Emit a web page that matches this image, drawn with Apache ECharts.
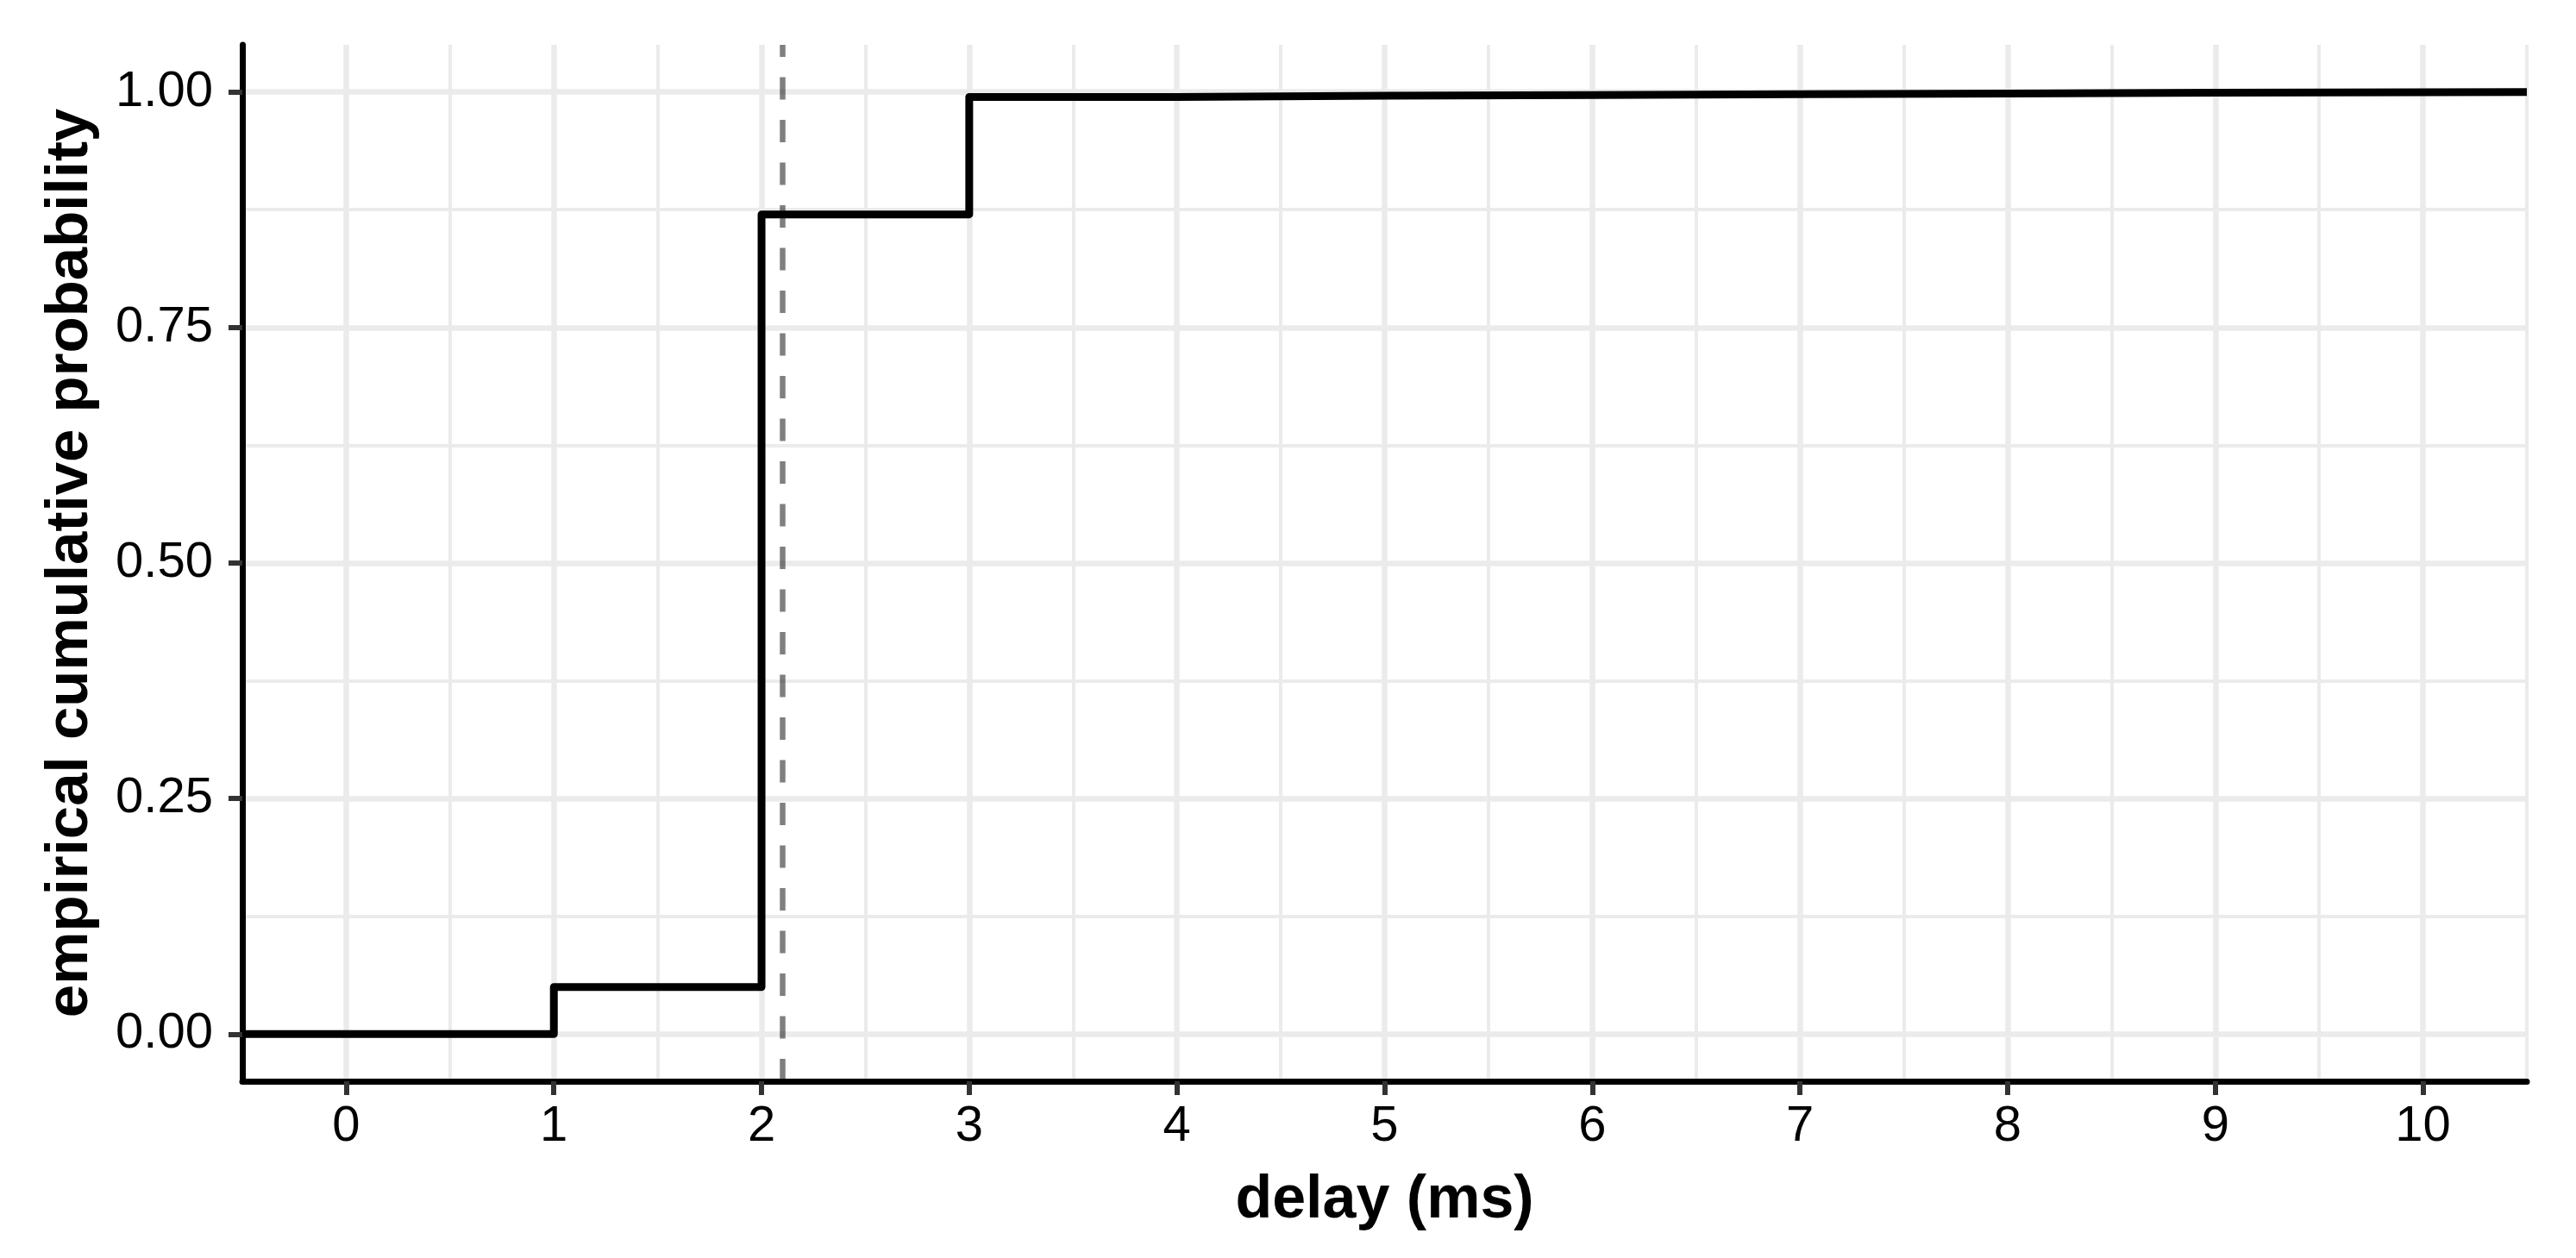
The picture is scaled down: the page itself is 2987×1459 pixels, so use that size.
<!DOCTYPE html>
<html>
<head>
<meta charset="utf-8">
<title>ecdf delay</title>
<script src="https://cdn.jsdelivr.net/npm/echarts@6/dist/echarts.min.js"></script>
<style>
    html, body { margin: 0; padding: 0; background: #ffffff; }
    #ecdfChart { width: 2987px; height: 1459px; }
</style>
</head>
<body>
<div id="ecdfChart"></div>
<script>
// 数据: 延迟 (ms) 及其经验累积概率
var delays = [1, 2, 3, 4, 5, 6, 7, 8, 9];
var cumProb = [0.05, 0.87, 0.9947, 0.9959, 0.9968, 0.9976, 0.9982, 0.9992, 1.0];

// 参考线 (虚线)
var refDelay = 2.1;

// 坐标轴范围和刻度
var xMin = -0.5, xMax = 10.5;
var yMin = -0.05, yMax = 1.05;
var xTicks = [0, 1, 2, 3, 4, 5, 6, 7, 8, 9, 10];
var xMinorTicks = [-0.5, 0.5, 1.5, 2.5, 3.5, 4.5, 5.5, 6.5, 7.5, 8.5, 9.5, 10.5];
var yTicks = [0, 0.25, 0.5, 0.75, 1];
var yMinorTicks = [0.125, 0.375, 0.625, 0.875];

var fontFamily = "'Liberation Sans', Arial, Helvetica, sans-serif";

// 阶梯线: 两端延伸到坐标轴边界 (同 stat_ecdf 的 pad)
var stepData = [[xMin, 0]];
for (var i = 0; i < delays.length; i++) {
    stepData.push([delays[i], cumProb[i]]);
}
stepData.push([xMax, cumProb[cumProb.length - 1]]);

var gridColor = '#ebebeb';

var option = {
    animation: false,
    backgroundColor: '#ffffff',
    grid: {
        left: 281,
        right: 57,
        top: 52,
        bottom: 205,
        containLabel: false
    },
    xAxis: [
        {
            type: 'value',
            min: xMin,
            max: xMax,
            minInterval: 1,
            maxInterval: 1,
            name: 'delay (ms)',
            nameLocation: 'middle',
            nameGap: 104,
            nameTextStyle: {
                color: '#000000',
                fontSize: 70,
                fontWeight: 'bold',
                fontFamily: fontFamily,
                verticalAlign: 'top'
            },
            axisLine: { show: true, onZero: false, lineStyle: { color: '#000000', width: 7 } },
            axisTick: { show: true, length: 16, customValues: xTicks, lineStyle: { color: '#333333', width: 6 } },
            axisLabel: {
                customValues: xTicks,
                margin: 24,
                color: '#000000',
                fontSize: 58,
                fontFamily: fontFamily
            },
            splitLine: { show: true, lineStyle: { color: gridColor, width: 6.5 } }
        },
        {
            // 次网格线
            type: 'value',
            min: xMin,
            max: xMax,
            position: 'bottom',
            axisLine: { show: false, onZero: false },
            axisTick: { show: false, customValues: xMinorTicks },
            axisLabel: { show: false },
            splitLine: { show: true, lineStyle: { color: gridColor, width: 4 } }
        }
    ],
    yAxis: [
        {
            type: 'value',
            min: yMin,
            max: yMax,
            minInterval: 0.25,
            maxInterval: 0.25,
            name: 'empirical cumulative probability',
            nameLocation: 'middle',
            nameGap: 165,
            nameTextStyle: {
                color: '#000000',
                fontSize: 69,
                fontWeight: 'bold',
                fontFamily: fontFamily
            },
            axisLine: { show: true, onZero: false, lineStyle: { color: '#000000', width: 7 } },
            axisTick: { show: true, length: 16, customValues: yTicks, lineStyle: { color: '#333333', width: 6 } },
            axisLabel: {
                customValues: yTicks,
                margin: 34,
                color: '#000000',
                fontSize: 58,
                fontFamily: fontFamily,
                formatter: function (v) { return v.toFixed(2); }
            },
            splitLine: { show: true, lineStyle: { color: gridColor, width: 6.5 } }
        },
        {
            // 次网格线
            type: 'value',
            min: yMin,
            max: yMax,
            position: 'left',
            axisLine: { show: false, onZero: false },
            axisTick: { show: false, customValues: yMinorTicks },
            axisLabel: { show: false },
            splitLine: { show: true, lineStyle: { color: gridColor, width: 4 } }
        }
    ],
    series: [
        {
            name: 'ecdf',
            type: 'line',
            step: 'end',
            xAxisIndex: 0,
            yAxisIndex: 0,
            data: stepData,
            symbol: 'none',
            lineStyle: { color: '#000000', width: 9, join: 'round', cap: 'butt' },
            z: 3,
            markLine: {
                silent: true,
                symbol: ['none', 'none'],
                label: { show: false },
                lineStyle: { color: 'rgba(0,0,0,0.5)', width: 6.5, type: [26, 23.5] },
                data: [{ xAxis: refDelay }]
            }
        }
    ]
};

var ecdfChart = echarts.init(document.getElementById('ecdfChart'));
ecdfChart.setOption(option);
</script>
</body>
</html>
